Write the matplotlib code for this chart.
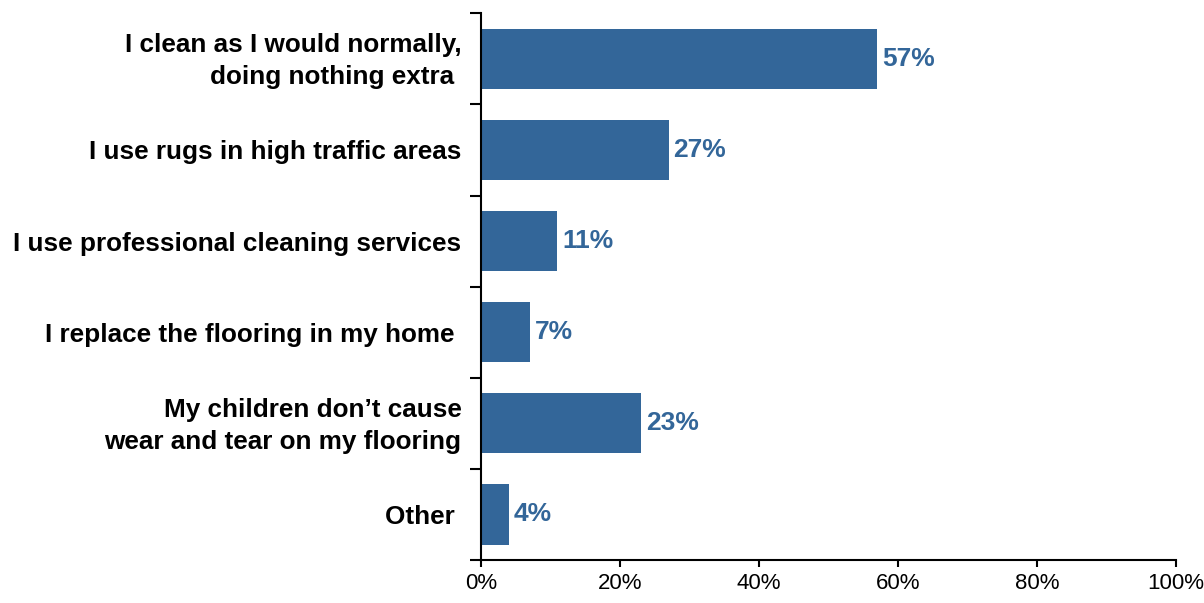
import matplotlib.pyplot as plt
import matplotlib.transforms as mtransforms
import numpy as np
from matplotlib.ticker import FixedLocator, PercentFormatter

plt.rcParams['font.family'] = ['Liberation Sans', 'DejaVu Sans']

categories = [
    "I clean as I would normally,\ndoing nothing extra ",
    "I use rugs in high traffic areas",
    "I use professional cleaning services",
    "I replace the flooring in my home ",
    "My children don\u2019t cause\nwear and tear on my flooring",
    "Other ",
]
values = [57, 27, 11, 7, 23, 4]

bar_color = "#336699"

fig = plt.figure(figsize=(12.04, 6.03), dpi=100)
ax = fig.add_axes([0.3995, 0.0713, 0.9767 - 0.3995, 0.978 - 0.0713])

y = np.arange(len(categories))
ax.barh(y, values, height=0.66, color=bar_color)

for yi, v in zip(y, values):
    ax.text(v + 0.7, yi, f"{v}%", va="center", ha="left",
            fontsize=19, fontweight="bold", color=bar_color)

ax.set_xlim(0, 100)
ax.set_ylim(len(categories) - 0.5, -0.5)
ax.set_xticks(np.arange(0, 101, 20))
ax.xaxis.set_major_formatter(PercentFormatter(decimals=0))
ax.tick_params(axis="x", labelsize=16, length=5, width=1.5, pad=4, direction="out")

ax.set_yticks(y)
ax.set_yticklabels(categories, fontsize=18.8, fontweight="bold", ha="right",
                   multialignment="right", linespacing=1.42)
ax.tick_params(axis="y", which="major", length=0, pad=14)
ax.yaxis.set_minor_locator(FixedLocator(np.arange(-0.5, len(categories), 1)))
ax.tick_params(axis="y", which="minor", length=8, width=1.5, direction="out")

# nudge the two-line labels up a little
lift = mtransforms.ScaledTranslation(0, 4 / 100, fig.dpi_scale_trans)
for lab in ax.get_yticklabels():
    if "\n" in lab.get_text():
        lab.set_transform(lab.get_transform() + lift)

for side in ["top", "right"]:
    ax.spines[side].set_visible(False)
for side in ["left", "bottom"]:
    ax.spines[side].set_linewidth(1.5)

fig.savefig("out.png", dpi=100)
